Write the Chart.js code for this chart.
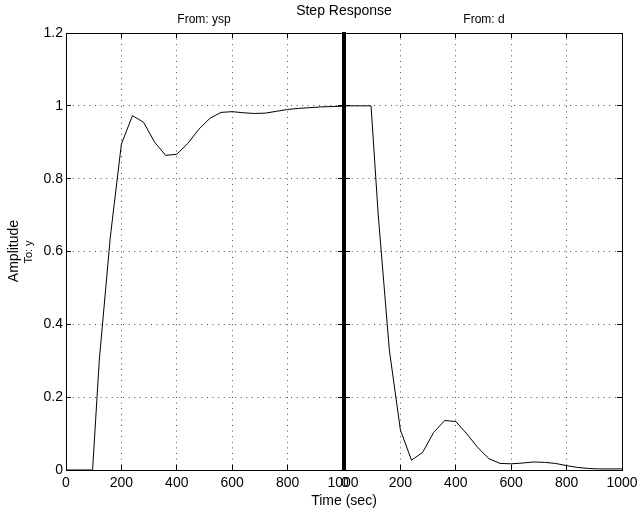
<!DOCTYPE html>
<html>
<head>
<meta charset="utf-8">
<script src="https://cdn.jsdelivr.net/npm/chart.js@4/dist/chart.umd.min.js"></script>
<style>
  body { margin: 0; background: #fff; }
  #wrap { position: relative; width: 637px; height: 512px; font-family: "Liberation Sans", Arial, sans-serif; color: #000; }
  canvas { position: absolute; left: 0; top: 0; }
  .lbl { position: absolute; white-space: nowrap; line-height: 1; transform: translate(-50%, -50%); }
  .rot { transform: translate(-50%, -50%) rotate(-90deg); }
</style>
</head>
<body>
<div id="wrap">
  <canvas id="leftChart" width="637" height="512"></canvas>
  <canvas id="rightChart" width="637" height="512"></canvas>
  <div class="lbl" style="left:344px;top:10px;font-size:14px;">Step Response</div>
  <div class="lbl" style="left:204px;top:19px;font-size:12px;">From: ysp</div>
  <div class="lbl" style="left:484px;top:19px;font-size:12px;">From: d</div>
  <div class="lbl rot" style="left:13px;top:251px;font-size:14px;">Amplitude</div>
  <div class="lbl rot" style="left:28px;top:252px;font-size:11px;">To: y</div>
  <div class="lbl" style="left:344px;top:500px;font-size:14px;">Time (sec)</div>
</div>
<script>
// step response from ysp to y
const timeYsp = [0, 96, 120, 160, 200, 240, 280, 320, 360, 400, 440, 480, 520, 560, 600, 640, 680, 720, 760, 800, 840, 880, 920, 960, 1000];
const valYsp = [0, 0, 0.30, 0.64, 0.895, 0.973, 0.955, 0.90, 0.864, 0.867, 0.897, 0.936, 0.966, 0.982, 0.984, 0.981, 0.979, 0.980, 0.985, 0.990, 0.993, 0.995, 0.997, 0.998, 0.999];

// step response from d to y
const timeD = [0, 94, 120, 160, 200, 240, 280, 320, 360, 400, 440, 480, 520, 560, 600, 640, 680, 720, 760, 800, 840, 880, 920, 960, 1000];
const valD = [1, 1, 0.70, 0.33, 0.11, 0.027, 0.048, 0.103, 0.136, 0.133, 0.099, 0.061, 0.031, 0.018, 0.017, 0.019, 0.022, 0.021, 0.018, 0.012, 0.007, 0.004, 0.003, 0.003, 0.003];

const xTicks = [0, 200, 400, 600, 800, 1000];
const yTicks = [0, 0.2, 0.4, 0.6, 0.8, 1, 1.2];

const tickFont = { family: '"Liberation Sans", Arial, sans-serif', size: 14 };
const dots = [1, 4.6];
const dotColor = 'rgba(0,0,0,0.7)';

function setTicks(list) {
    return function (scale) {
        scale.ticks = list.map(v => ({ value: v }));
    };
}

function fixSize(w, h) {
    return function (scale) {
        if (w !== null) scale.width = w;
        if (h !== null) scale.height = h;
        scale.paddingLeft = 0;
        scale.paddingRight = 0;
        scale.paddingTop = 0;
        scale.paddingBottom = 0;
    };
}

function makeChart(id, times, vals, leftWidth, rightPad, showYLabels, leftBorder, rightBorder) {
    const ctx = document.getElementById(id).getContext('2d');
    return new Chart(ctx, {
        type: 'line',
        data: {
            datasets: [{
                data: times.map((t, i) => ({ x: t, y: vals[i] })),
                borderColor: '#000',
                borderWidth: 1,
                pointRadius: 0,
                tension: 0,
                fill: false
            }]
        },
        options: {
            responsive: false,
            animation: false,
            devicePixelRatio: 1,
            layout: { padding: { left: 0, top: 33, right: rightPad, bottom: 0 } },
            plugins: { legend: { display: false }, tooltip: { enabled: false } },
            scales: {
                x: {
                    type: 'linear', position: 'bottom', min: 0, max: 1000,
                    afterBuildTicks: setTicks(xTicks),
                    afterFit: fixSize(null, 42),
                    ticks: {
                        font: tickFont, color: '#000', padding: 10, maxRotation: 0, autoSkip: false,
                        callback: v => String(v)
                    },
                    grid: { color: dotColor, lineWidth: 1, tickLength: -5, tickColor: '#000', tickWidth: 1 },
                    border: { color: '#000', width: 1, dash: dots }
                },
                x2: {
                    type: 'linear', position: 'top', min: 0, max: 1000,
                    afterBuildTicks: setTicks(xTicks),
                    afterFit: fixSize(null, 0),
                    ticks: { display: false },
                    grid: { drawOnChartArea: false, tickLength: -5, tickColor: '#000', tickWidth: 1 },
                    border: { color: '#000', width: 1 }
                },
                y: {
                    type: 'linear', position: 'left', min: 0, max: 1.2,
                    afterBuildTicks: setTicks(yTicks),
                    afterFit: fixSize(leftWidth, null),
                    ticks: {
                        display: showYLabels, font: tickFont, color: '#000', padding: 8,
                        callback: v => String(+v.toFixed(1))
                    },
                    grid: { color: dotColor, lineWidth: 1, tickLength: -5, tickColor: '#000', tickWidth: 1 },
                    border: { color: '#000', width: leftBorder, dash: dots }
                },
                y2: {
                    type: 'linear', position: 'right', min: 0, max: 1.2,
                    afterBuildTicks: setTicks(yTicks),
                    afterFit: fixSize(0, null),
                    ticks: { display: false },
                    grid: { drawOnChartArea: false, tickLength: -5, tickColor: '#000', tickWidth: 1 },
                    border: { color: '#000', width: rightBorder }
                }
            }
        }
    });
}

const leftChart = makeChart('leftChart', timeYsp, valYsp, 66, 637 - 343, true, 1, 2);
const rightChart = makeChart('rightChart', timeD, valD, 345, 637 - 622, false, 2, 1);
</script>
</body>
</html>
